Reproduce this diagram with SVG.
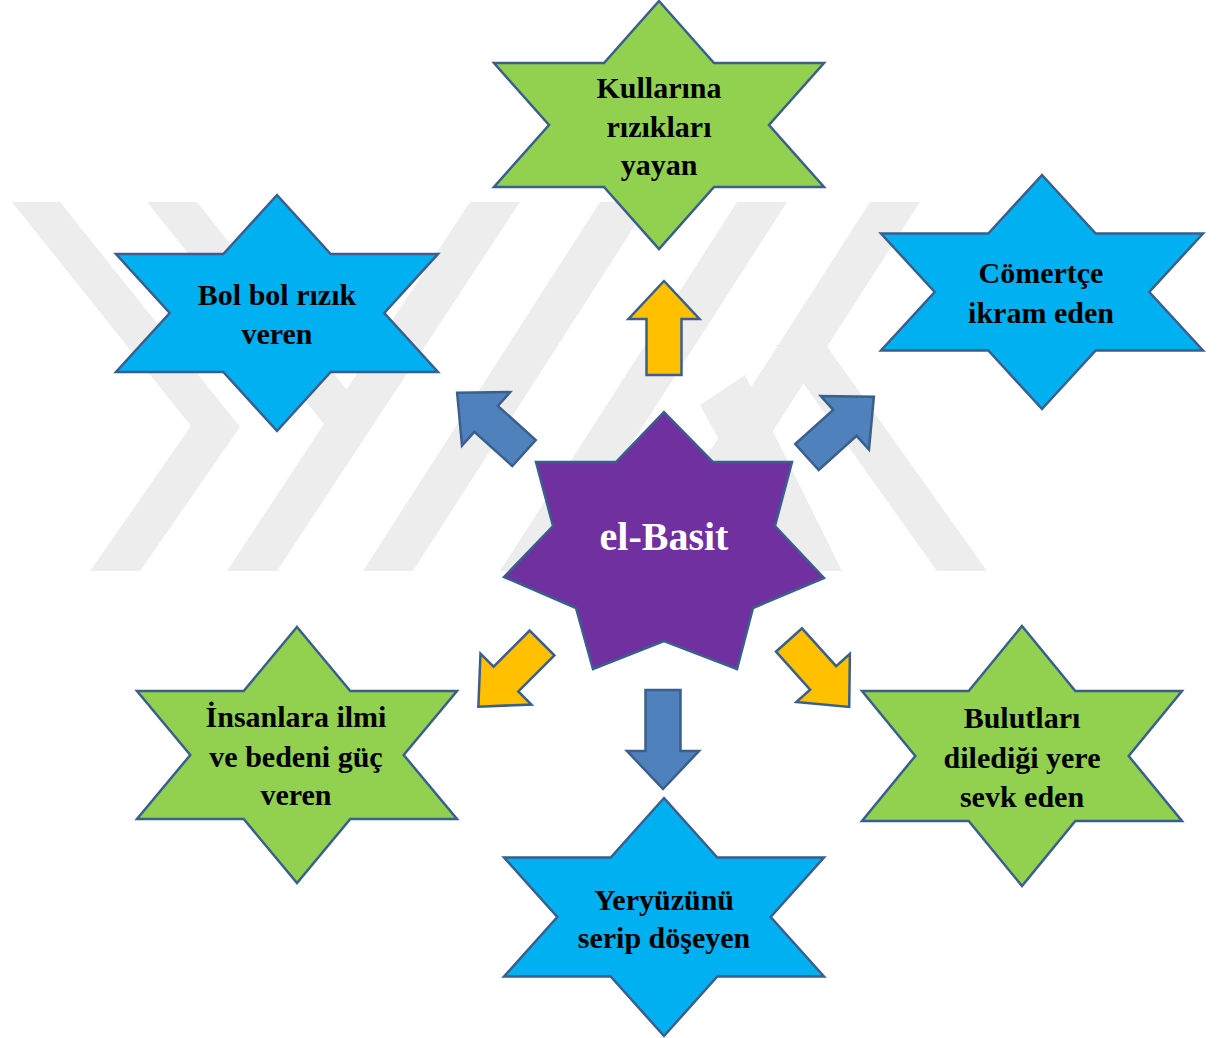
<svg xmlns="http://www.w3.org/2000/svg" xmlns:xlink="http://www.w3.org/1999/xlink" width="1218" height="1038" viewBox="0 0 1218 1038">
<style>
.wm{fill:#EDEDED;stroke:none}
.star{stroke:#3A5F8C;stroke-width:2.5;stroke-linejoin:miter}
.green{fill:#92D050}
.cyan{fill:#00B0F0}
.purple{fill:#7030A0}
.arr{stroke:#3A5F8C;stroke-width:2.5;stroke-linejoin:miter}
.yel{fill:#FFC000}
.blu{fill:#4F81BD}
.lbl{font-family:"Liberation Serif","Times New Roman",serif;font-weight:bold;font-size:30px;fill:#000;text-anchor:middle}
.ctr{font-family:"Liberation Serif","Times New Roman",serif;font-weight:bold;font-size:40px;fill:#FFFFFF;text-anchor:middle}
</style>
<defs>
<path id="arrD" d="M0,-17.5 L51,-17.5 L51,-36 L90,0 L51,36 L51,17.5 L0,17.5 Z"/>
</defs>
<rect width="1218" height="1038" fill="#FFFFFF"/>
<g id="watermark">
<polygon class="wm" points="12,202 60,202 240,427 140,571 90,571 191,426"/>
<polygon class="wm" points="147,202 197,202 374,424 324,424"/>
<polygon class="wm" points="470,202 520,202 277,571 227,571"/>
<polygon class="wm" points="600,202 650,202 413,571 363,571"/>
<polygon class="wm" points="737,202 787,202 550,571 500,571"/>
<polygon class="wm" points="870,202 920,202 683,571 633,571"/>
<polygon class="wm" points="700,405 745,375 842,571 790,571"/>
<polygon class="wm" points="776,345 826,345 987,571 937,571"/>
</g>
<g id="connectors">
<path class="arr yel" d="M646.5,375 L646.5,319 L628.5,319 L664,281 L699.5,319 L681.5,319 L681.5,375 Z"/>
<path class="arr blu" d="M645.5,690 L680.5,690 L680.5,751 L699,751 L663,789 L627,751 L645.5,751 Z"/>
<use xlink:href="#arrD" class="arr blu" transform="translate(524,453) rotate(-138)"/>
<use xlink:href="#arrD" class="arr blu" transform="translate(807,457) rotate(-42)"/>
<use xlink:href="#arrD" class="arr yel" transform="translate(542,643) rotate(135)"/>
<use xlink:href="#arrD" class="arr yel" transform="translate(789,640) rotate(48)"/>
</g>
<g id="node-center">
<polygon class="star purple" points="664,412 713,462 792,462 775,526 824,578 753,608 737,669 664,641 593,669 576,608 504,577 553,526 536,462 616,462"/>
<text class="ctr" x="664" y="550">el-Basit</text>
</g>
<g id="node-kullarina">
<polygon class="star green" points="659,1 714,63 824,63 769,125 824,187 714,187 659,249 604,187 494,187 549,125 494,63 604,63"/>
<text class="lbl" x="659" y="98">Kullarına</text>
<text class="lbl" x="659" y="137">rızıkları</text>
<text class="lbl" x="659" y="175">yayan</text>
</g>
<g id="node-bolbol">
<polygon class="star cyan" points="277,195 330.7,254 438,254 384.3,313 438,372 330.7,372 277,431 223.3,372 116,372 169.7,313 116,254 223.3,254"/>
<text class="lbl" x="277" y="305">Bol bol rızık</text>
<text class="lbl" x="277" y="344">veren</text>
</g>
<g id="node-comertce">
<polygon class="star cyan" points="1042,175 1095.7,233.5 1203,233.5 1149.3,292 1203,350.5 1095.7,350.5 1042,409 988.3,350.5 881,350.5 934.7,292 881,233.5 988.3,233.5"/>
<text class="lbl" x="1041" y="283">Cömertçe</text>
<text class="lbl" x="1041" y="323">ikram eden</text>
</g>
<g id="node-insanlara">
<polygon class="star green" points="297,627 350.3,691 457,691 403.7,755 457,819 350.3,819 297,883 243.7,819 137,819 190.3,755 137,691 243.7,691"/>
<text class="lbl" x="296" y="727">İnsanlara ilmi</text>
<text class="lbl" x="296" y="767">ve bedeni güç</text>
<text class="lbl" x="296" y="805">veren</text>
</g>
<g id="node-bulutlari">
<polygon class="star green" points="1022,626 1075.3,691 1182,691 1128.7,756 1182,821 1075.3,821 1022,886 968.7,821 862,821 915.3,756 862,691 968.7,691"/>
<text class="lbl" x="1022" y="728">Bulutları</text>
<text class="lbl" x="1022" y="768">dilediği yere</text>
<text class="lbl" x="1022" y="807">sevk eden</text>
</g>
<g id="node-yeryuzunu">
<polygon class="star cyan" points="664,798 717.3,857.5 824,857.5 770.7,917 824,976.5 717.3,976.5 664,1036 610.7,976.5 504,976.5 557.3,917 504,857.5 610.7,857.5"/>
<text class="lbl" x="664" y="910">Yeryüzünü</text>
<text class="lbl" x="664" y="948">serip döşeyen</text>
</g>
</svg>
